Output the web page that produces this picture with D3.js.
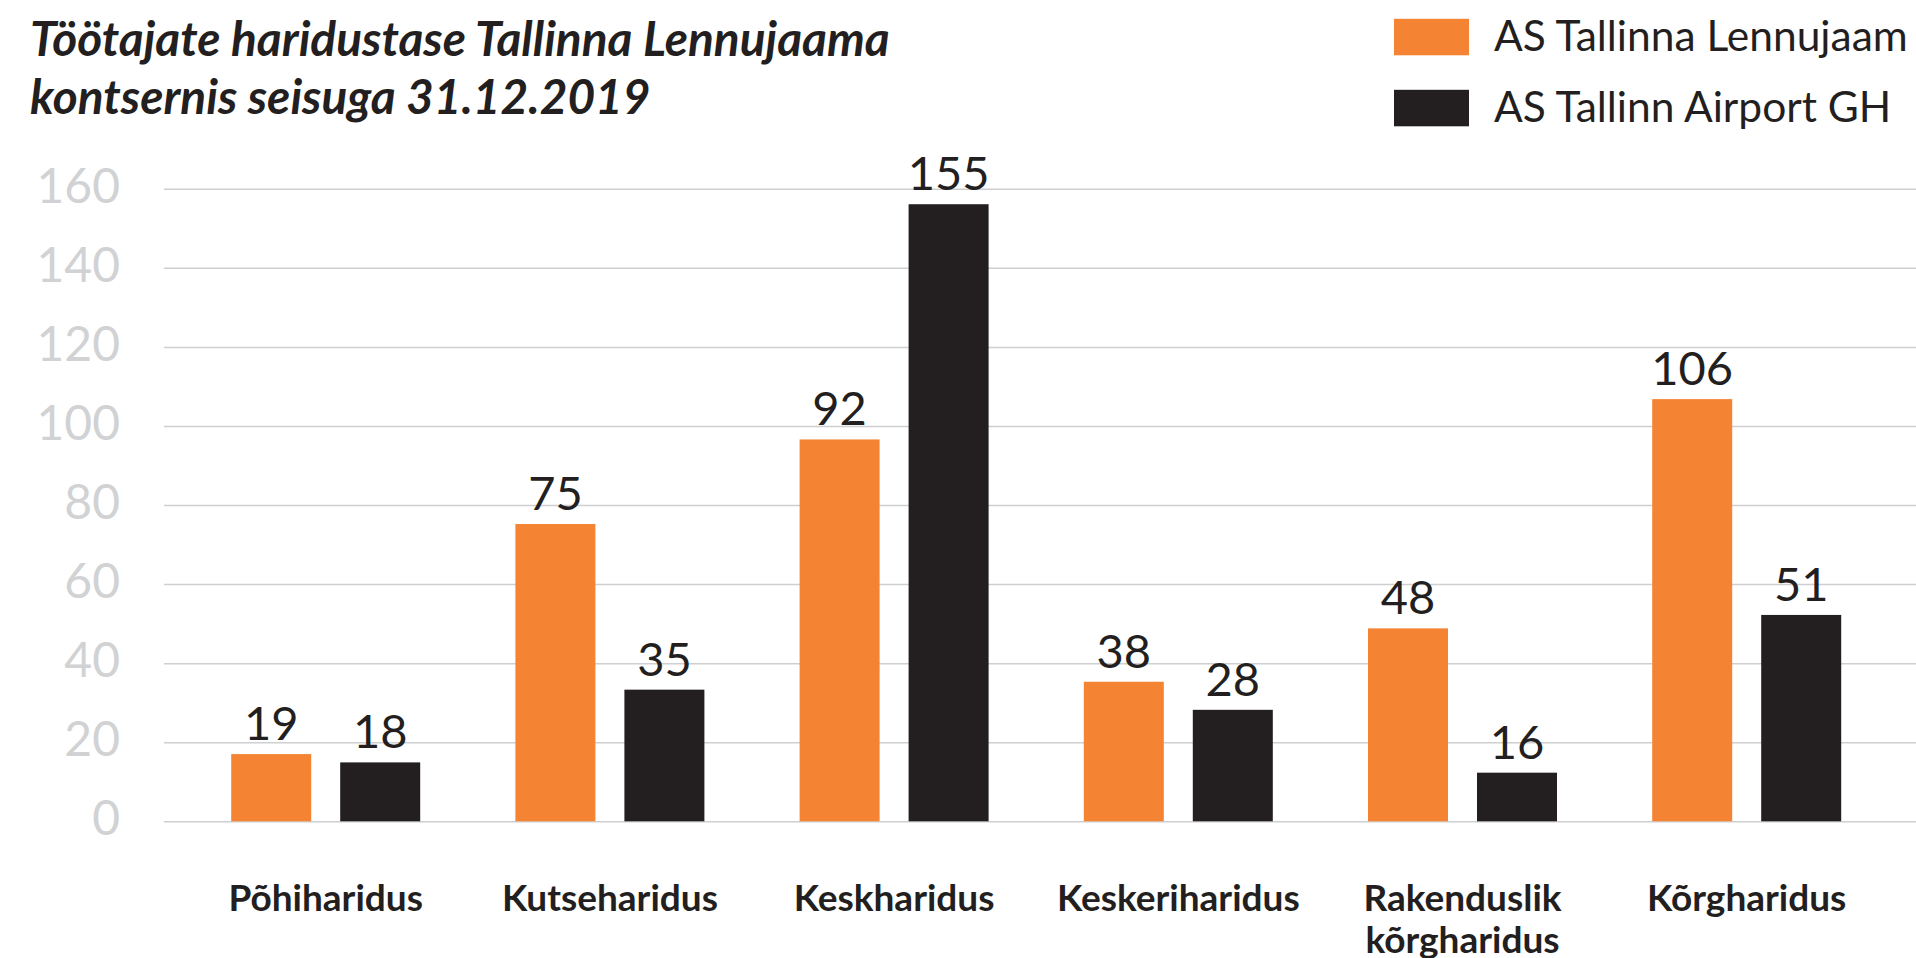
<!DOCTYPE html>
<html>
<head>
<meta charset="utf-8">
<script src="https://cdn.jsdelivr.net/npm/d3@7"></script>
<style>
  html, body { margin: 0; padding: 0; background: #fff; }
  svg { display: block; font-family: Lato, "Open Sans", sans-serif; }
</style>
</head>
<body>
<div id="chart"></div>
<script>
// Data
const categories = ["Põhiharidus", "Kutseharidus", "Keskharidus", "Keskeriharidus", "Rakenduslik kõrgharidus", "Kõrgharidus"];
const seriesNames = ["AS Tallinna Lennujaam", "AS Tallinn Airport GH"];
// printed value labels
const lennujaamLabels = [19, 75, 92, 38, 48, 106];
const airportGhLabels = [18, 35, 155, 28, 16, 51];
// bar heights as drawn in the picture (they differ a bit from the labels)
const lennujaamBars = [17.0, 75.2, 96.6, 35.3, 48.8, 106.8];
const airportGhBars = [14.9, 33.3, 156.1, 28.2, 12.3, 52.2];
const yTicks = [0, 20, 40, 60, 80, 100, 120, 140, 160];

const colors = ["#f48433", "#231f20"];
const textColor = "#231f20";

const W = 1916, H = 958;

const svg = d3.select("#chart").append("svg")
    .attr("width", W)
    .attr("height", H);

const y = d3.scaleLinear().domain([0, 160]).range([821.3, 188.8]);

const x0 = d3.scaleBand().domain(categories).range([183.6, 1888.8]);
const x1 = d3.scaleBand().domain(seriesNames).range([47.6, 236.6]).paddingInner(0.266);

// grid + y labels
const gridLeft = 164;
const yAxis = svg.append("g")
    .attr("transform", `translate(${gridLeft},0)`)
    .call(d3.axisLeft(y).tickValues(yTicks).tickSize(-(W - gridLeft)).tickPadding(44));
yAxis.select(".domain").remove();
yAxis.selectAll(".tick line").attr("stroke", "#cfcfd1").attr("stroke-width", 1.5);
yAxis.selectAll(".tick text")
    .attr("fill", "#d1d2d4")
    .attr("font-size", 48)
    .attr("font-family", "Lato")
    .attr("dy", 13.5);

// bars
const rows = categories.map((c, i) => ({
    cat: c,
    vals: [
        { s: seriesNames[0], bar: lennujaamBars[i], label: lennujaamLabels[i] },
        { s: seriesNames[1], bar: airportGhBars[i], label: airportGhLabels[i] }
    ]
}));

const groups = svg.selectAll("g.grp")
    .data(rows)
    .enter().append("g")
    .attr("class", "grp")
    .attr("transform", d => `translate(${x0(d.cat)},0)`);

groups.selectAll("rect")
    .data(d => d.vals)
    .enter().append("rect")
    .attr("x", d => x1(d.s))
    .attr("y", d => y(d.bar))
    .attr("width", x1.bandwidth())
    .attr("height", d => y(0) - y(d.bar))
    .attr("fill", (d, i) => colors[i]);

groups.selectAll("text.val")
    .data(d => d.vals)
    .enter().append("text")
    .attr("class", "val")
    .attr("x", d => x1(d.s) + x1.bandwidth() / 2)
    .attr("y", d => y(d.bar) - 14)
    .attr("text-anchor", "middle")
    .attr("font-size", 47)
    .attr("fill", textColor)
    .text(d => d.label);

// category labels
const catLabels = svg.selectAll("text.cat")
    .data(categories)
    .enter().append("text")
    .attr("class", "cat")
    .attr("x", d => x0(d) + x0.bandwidth() / 2)
    .attr("y", 911)
    .attr("text-anchor", "middle")
    .attr("font-size", 37)
    .attr("font-weight", "bold")
    .attr("fill", textColor);

catLabels.each(function(d) {
    const words = d === "Rakenduslik kõrgharidus" ? ["Rakenduslik", "kõrgharidus"] : [d];
    const t = d3.select(this);
    words.forEach((w, i) => {
        t.append("tspan")
            .attr("x", x0(d) + x0.bandwidth() / 2)
            .attr("dy", i === 0 ? 0 : 42)
            .text(w);
    });
});

// title
const title = svg.append("text")
    .attr("x", 30)
    .attr("y", 56)
    .attr("font-size", 47.8)
    .attr("font-weight", "bold")
    .attr("font-style", "italic")
    .attr("fill", textColor);
title.append("tspan").attr("x", 30).text("Töötajate haridustase Tallinna Lennujaama");
title.append("tspan").attr("x", 30).attr("dy", 58).text("kontsernis seisuga 31.12.2019");

// legend
const legend = svg.selectAll("g.leg")
    .data(seriesNames)
    .enter().append("g")
    .attr("class", "leg")
    .attr("transform", (d, i) => `translate(1394,${18.8 + i * 71})`);

legend.append("rect")
    .attr("width", 75)
    .attr("height", 36.5)
    .attr("fill", (d, i) => colors[i]);

legend.append("text")
    .attr("x", 100)
    .attr("y", 32.5)
    .attr("font-size", 42.5)
    .attr("fill", textColor)
    .text(d => d);
</script>
</body>
</html>
